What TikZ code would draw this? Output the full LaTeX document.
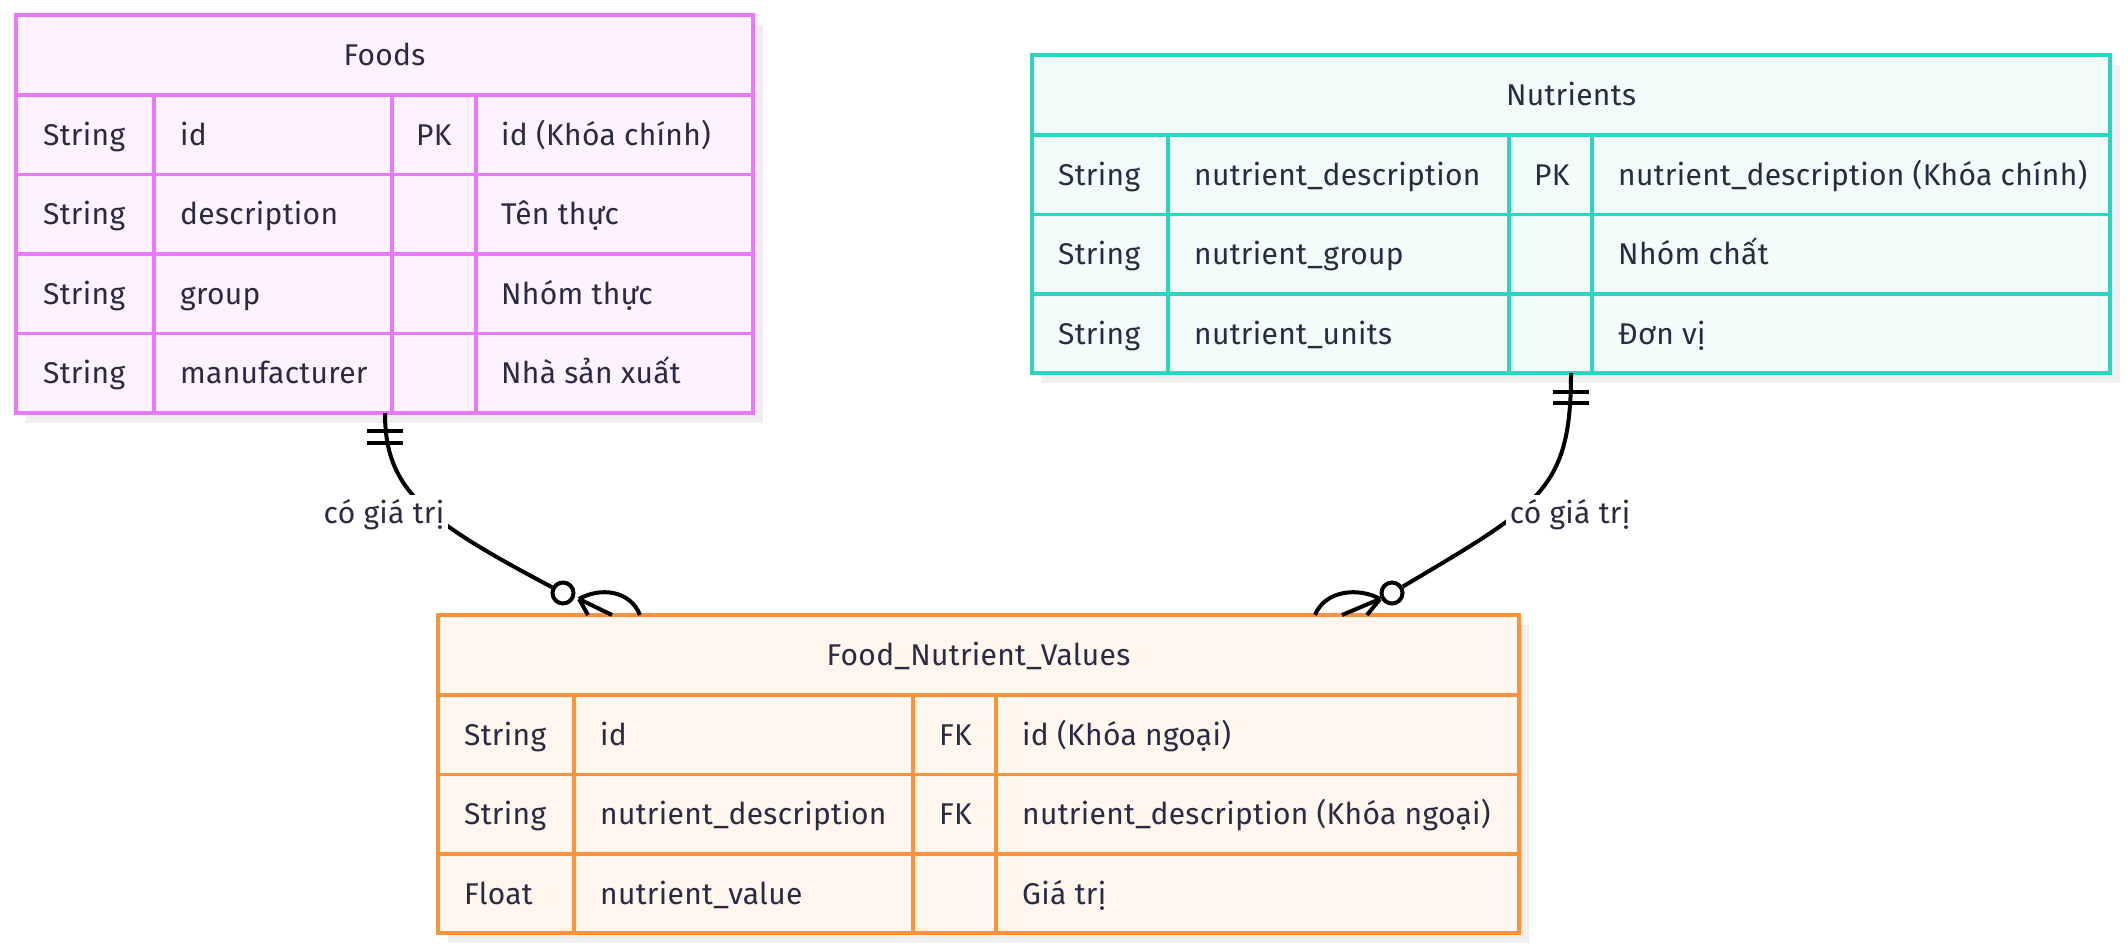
\documentclass[tikz,border=0pt]{standalone}
\usepackage{fontspec}
\setmainfont[LetterSpace=1]{Fira Sans}
\definecolor{txtc}{RGB}{42,42,66}
\definecolor{shadowc}{RGB}{239,239,239}
\definecolor{fuchB}{RGB}{232,121,249}
\definecolor{fuchF}{RGB}{253,242,255}
\definecolor{tealB}{RGB}{45,212,191}
\definecolor{tealF}{RGB}{240,253,250}
\definecolor{oranB}{RGB}{251,146,60}
\definecolor{oranF}{RGB}{255,246,237}
\tikzset{
  tblbox/.style={line width=3.5pt, inner sep=0pt, outer sep=0pt, anchor=north west},
  tblline/.style={line width=3.5pt},
  cell/.style={anchor=base west, inner sep=0pt, text=txtc, font=\fontsize{30}{36}\selectfont},
  ttl/.style={anchor=base, inner sep=0pt, text=txtc, font=\fontsize{30}{36}\selectfont},
  rel/.style={line width=4pt, black},
  relbar/.style={line width=4pt, black},
  zero/.style={circle, draw=black, line width=4pt, fill=white, minimum size=21pt, inner sep=0pt},
  lbl/.style={fill=white, inner sep=4pt, text=txtc, font=\fontsize{30}{36}\selectfont, anchor=base}
}
\begin{document}
\begin{tikzpicture}[x=1pt,y=-1pt]
\useasboundingbox (0,0) rectangle (2128,949);
\fill[white] (0,0) rectangle (2128,949);

% ---------- Foods ----------
\fill[shadowc] (26,25) rectangle (763,423);
\node[tblbox, draw=fuchB, fill=fuchF, minimum width=737pt, minimum height=398pt] (foods) at (16,15) {};
\foreach \y in {95,174.5,254,333.5} \draw[tblline, fuchB] (16,\y) -- (753,\y);
\foreach \x in {154,392,476} \draw[tblline, fuchB] (\x,95) -- (\x,413);
\node[ttl] (foodsT) at (384.5,65.5) {Foods};
\foreach \a/\b/\c/\d [count=\i] in {String/id/PK/id (Khóa chính), String/description//Tên thực, String/group//Nhóm thực, String/manufacturer//Nhà sản xuất}{
  \pgfmathsetmacro\yy{95+79.5*(\i-0.5)+10.5}
  \node[cell] (fa\i) at (43,\yy) {\a};
  \node[cell] (fb\i) at (180,\yy) {\b};
  \node[cell] (fc\i) at (416,\yy) {\c};
  \node[cell] (fd\i) at (501,\yy) {\d};
}

% ---------- Nutrients ----------
\fill[shadowc] (1042,65) rectangle (2120,383);
\node[tblbox, draw=tealB, fill=tealF, minimum width=1078pt, minimum height=318pt] (nutr) at (1032,55) {};
\foreach \y in {135,214.5,294} \draw[tblline, tealB] (1032,\y) -- (2110,\y);
\foreach \x in {1168,1509,1592} \draw[tblline, tealB] (\x,135) -- (\x,373);
\node[ttl] (nutrT) at (1571,105.5) {Nutrients};
\foreach \a/\b/\c/\d [count=\i] in {String/nutrient\_description/PK/nutrient\_description (Khóa chính), String/nutrient\_group//Nhóm chất, String/nutrient\_units//Đơn vị}{
  \pgfmathsetmacro\yy{135+79.5*(\i-0.5)+10.5}
  \node[cell] (na\i) at (1058,\yy) {\a};
  \node[cell] (nb\i) at (1194,\yy) {\b};
  \node[cell] (nc\i) at (1534,\yy) {\c};
  \node[cell] (nd\i) at (1618,\yy) {\d};
}

% ---------- Food_Nutrient_Values ----------
\fill[shadowc] (448,625) rectangle (1529,943);
\node[tblbox, draw=oranB, fill=oranF, minimum width=1081pt, minimum height=318pt] (fnv) at (438,615) {};
\foreach \y in {695,774.5,854} \draw[tblline, oranB] (438,\y) -- (1519,\y);
\foreach \x in {574,913,996} \draw[tblline, oranB] (\x,695) -- (\x,933);
\node[ttl] (fnvT) at (978.5,665.5) {Food\_Nutrient\_Values};
\foreach \a/\b/\c/\d [count=\i] in {String/id/FK/id (Khóa ngoại), String/nutrient\_description/FK/nutrient\_description (Khóa ngoại), Float/nutrient\_value//Giá trị}{
  \pgfmathsetmacro\yy{695+79.5*(\i-0.5)+10.5}
  \node[cell] (va\i) at (464,\yy) {\a};
  \node[cell] (vb\i) at (600,\yy) {\b};
  \node[cell] (vc\i) at (939,\yy) {\c};
  \node[cell] (vd\i) at (1022,\yy) {\d};
}

% ---------- Relationship Foods -> FNV ----------
\coordinate (r1s) at (385,413);
\node[zero] (r1z) at (563,593) {};
\draw[rel] (r1s) .. controls (385,490) and (425,520) .. (r1z);
\draw[relbar] (367,431) -- (403,431);
\draw[relbar] (367,443) -- (403,443);
\coordinate (r1p) at (579,599);
\coordinate (r1a) at (588,615);
\coordinate (r1b) at (612,615);
\coordinate (r1c) at (640,615);
\draw[rel] (r1p) -- (r1a);
\draw[rel] (r1p) -- (r1b);
\draw[rel] (r1p) .. controls (600,587) and (630,590) .. (r1c);
\node[lbl] (r1l) at (384,523) {có giá trị};

% ---------- Relationship Nutrients -> FNV ----------
\coordinate (r2s) at (1571,373);
\node[zero] (r2z) at (1392,593) {};
\draw[rel] (r2s) .. controls (1571,490) and (1540,505) .. (r2z);
\draw[relbar] (1553,392) -- (1589,392);
\draw[relbar] (1553,403) -- (1589,403);
\coordinate (r2p) at (1380,599);
\coordinate (r2a) at (1367,615);
\coordinate (r2b) at (1342,615);
\coordinate (r2c) at (1315,615);
\draw[rel] (r2p) -- (r2a);
\draw[rel] (r2p) -- (r2b);
\draw[rel] (r2p) .. controls (1359,587) and (1325,590) .. (r2c);
\node[lbl] (r2l) at (1570,523) {có giá trị};

\end{tikzpicture}
\end{document}
